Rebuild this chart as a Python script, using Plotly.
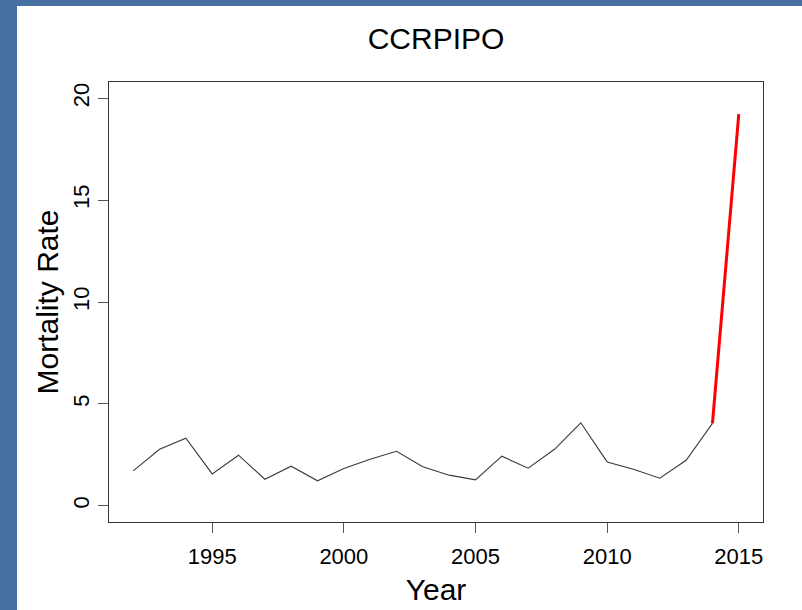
import plotly.graph_objects as go

years = [1992, 1993, 1994, 1995, 1996, 1997, 1998, 1999, 2000, 2001, 2002, 2003,
         2004, 2005, 2006, 2007, 2008, 2009, 2010, 2011, 2012, 2013, 2014, 2015]
rate = [1.71, 2.77, 3.31, 1.56, 2.48, 1.30, 1.94, 1.22, 1.83, 2.28, 2.67, 1.91,
        1.50, 1.27, 2.43, 1.84, 2.77, 4.07, 2.15, 1.79, 1.35, 2.23, 4.04, 19.22]
x_ticks = [1995, 2000, 2005, 2010, 2015]
y_ticks = [0, 5, 10, 15, 20]
title_text = "CCRPIPO"
x_label = "Year"
y_label = "Mortality Rate"

FONT = "Liberation Sans, Arial, sans-serif"

fig = go.Figure()
fig.add_trace(go.Scatter(x=years[:-1], y=rate[:-1], mode="lines",
                         line=dict(color="#3a3a3a", width=1.1), showlegend=False))
fig.add_trace(go.Scatter(x=years[-2:], y=rate[-2:], mode="lines",
                         line=dict(color="#ff0000", width=3), showlegend=False))

W, H = 802, 610
L, R, T, B = 109, 39, 82, 88
pw, ph = W - L - R, H - T - B

# blue frame (left and top strips) in paper coordinates
def px_to_xpaper(px):
    return (px - L) / pw

def py_to_ypaper(py):
    return 1 + (T - py) / ph

blue = "#4670A2"
fig.add_shape(type="rect", xref="paper", yref="paper",
              x0=px_to_xpaper(0), x1=px_to_xpaper(17),
              y0=py_to_ypaper(H), y1=py_to_ypaper(0),
              fillcolor=blue, line=dict(width=0), layer="below")
fig.add_shape(type="rect", xref="paper", yref="paper",
              x0=px_to_xpaper(0), x1=px_to_xpaper(W),
              y0=py_to_ypaper(6), y1=py_to_ypaper(0),
              fillcolor=blue, line=dict(width=0), layer="below")

fig.update_layout(
    width=W, height=H,
    margin=dict(l=L, r=R, t=T, b=B, pad=0),
    paper_bgcolor="white", plot_bgcolor="white",
    font=dict(family=FONT, color="black"),
    title=dict(text=title_text, x=(436) / W, xanchor="center",
               y=1 - 38 / H, yanchor="middle", yref="container",
               font=dict(size=30, family=FONT, color="black")),
)
fig.update_xaxes(range=[1991.08, 2015.92], tickmode="array", tickvals=x_ticks,
                 ticks="outside", ticklen=10, tickcolor="#555555", tickwidth=1,
                 ticklabelstandoff=5, automargin=False,
                 showline=True, linecolor="#333333", linewidth=1, mirror=True,
                 showgrid=False, zeroline=False,
                 tickfont=dict(size=22, family=FONT, color="black"),
                 title=dict(text=x_label, standoff=10,
                            font=dict(size=30, family=FONT, color="black")))
fig.update_yaxes(range=[-0.8, 20.8], tickmode="array", tickvals=y_ticks,
                 ticks="outside", ticklen=10, tickcolor="#555555", tickwidth=1,
                 tickangle=-90, automargin=False,
                 showline=True, linecolor="#333333", linewidth=1, mirror=True,
                 showgrid=False, zeroline=False,
                 tickfont=dict(size=22, family=FONT, color="black"),
                 title=dict(text=y_label, standoff=1,
                            font=dict(size=30, family=FONT, color="black")))

fig.write_html("out.html", config={"displayModeBar": False},
               post_script="document.body.style.margin='0';")
